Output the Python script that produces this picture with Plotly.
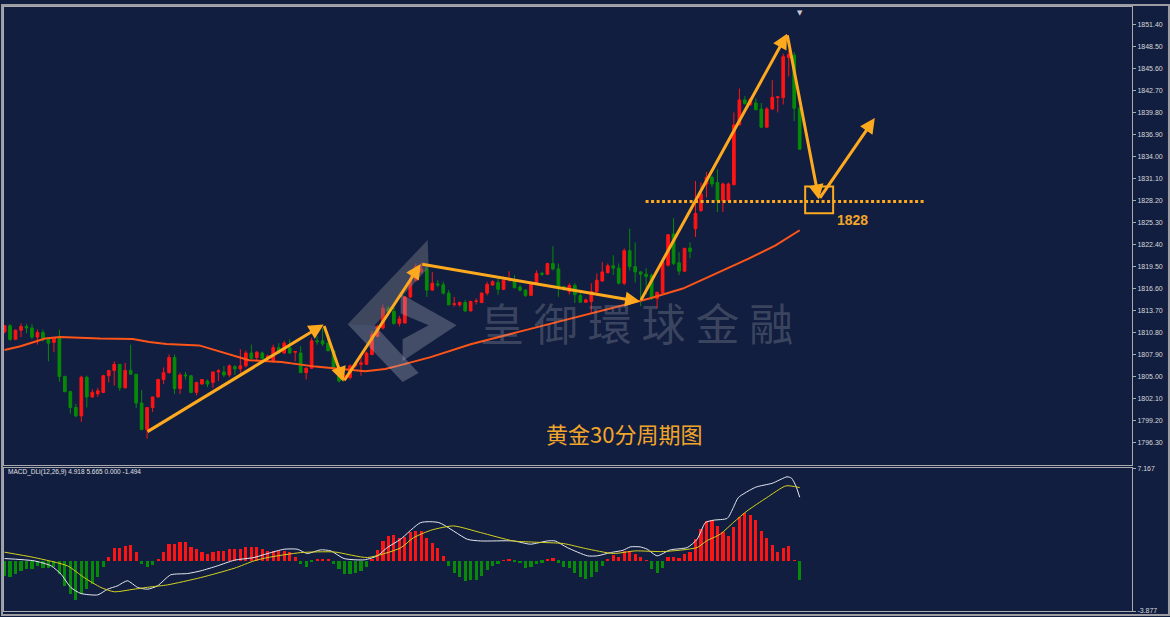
import plotly.graph_objects as go

# ---------------- data (30-minute gold candles, index = bar number) ----------------
open_ = [1810.9, 1811.7, 1809.9, 1811.1, 1811.6, 1811.4, 1810.2, 1810.8, 1809.9, 1809.5,
         1810.1, 1805.0, 1803.0, 1800.9, 1799.8, 1804.9, 1802.3, 1802.7, 1802.9, 1805.1,
         1805.8, 1806.6, 1803.5, 1805.8, 1805.3, 1801.5, 1798.0, 1800.9, 1802.3, 1804.6,
         1805.5, 1807.5, 1803.4, 1805.2, 1805.1, 1802.9, 1804.0, 1804.4, 1804.2, 1805.6,
         1805.6, 1805.2, 1806.3, 1806.0, 1806.4, 1808.1, 1807.5, 1808.1, 1807.4, 1807.1,
         1808.8, 1808.1, 1808.8, 1808.2, 1808.1, 1805.5, 1806.1, 1809.7, 1809.7, 1809.4,
         1808.4, 1805.9, 1804.6, 1804.85, 1806.4, 1806.6, 1806.6, 1807.9, 1810.3, 1811.4,
         1814.0, 1813.6, 1812.0, 1812.05, 1815.5, 1817.7, 1818.8, 1819.2, 1816.4, 1817.2,
         1817.1, 1816.0, 1814.5, 1814.45, 1814.75, 1813.65, 1814.9, 1814.75, 1816.0, 1817.06,
         1817.4, 1816.5, 1817.8, 1817.7, 1816.8, 1816.4, 1815.7, 1817.15, 1818.6, 1818.5,
         1819.9, 1819.2, 1816.85, 1816.2, 1817.0, 1815.7, 1814.8, 1814.9, 1816.2, 1817.6,
         1818.7, 1819.6, 1819.3, 1817.3, 1821.6, 1819.5, 1818.8, 1818.5, 1818.3, 1815.3,
         1816.0, 1819.7, 1823.8, 1820.0, 1818.9, 1821.96, 1824.5, 1826.9, 1830.4, 1831.3,
         1830.6, 1828.2, 1828.2, 1830.3, 1838.2, 1841.5, 1840.9, 1841.1, 1840.3, 1837.9,
         1840.3, 1841.8, 1841.8, 1847.1, 1847.4, 1840.4]
close = [1811.7, 1809.9, 1811.1, 1811.6, 1811.4, 1810.2, 1810.8, 1809.9, 1809.4, 1810.1,
         1805.0, 1803.0, 1800.9, 1799.8, 1804.9, 1802.3, 1802.9, 1803.1, 1805.1, 1805.8,
         1806.6, 1803.5, 1805.8, 1805.3, 1801.5, 1798.0, 1800.9, 1802.3, 1804.6, 1805.5,
         1807.5, 1803.4, 1805.2, 1805.1, 1802.9, 1804.2, 1804.6, 1804.0, 1805.6, 1805.75,
         1805.2, 1806.4, 1806.0, 1806.4, 1808.1, 1807.4, 1808.2, 1807.4, 1807.7, 1808.8,
         1808.1, 1809.4, 1808.1, 1808.3, 1805.5, 1806.1, 1809.7, 1809.6, 1809.3, 1808.4,
         1806.2, 1804.4, 1805.1, 1806.4, 1806.6, 1806.8, 1808.1, 1810.5, 1811.6, 1814.0,
         1813.6, 1812.0, 1812.6, 1815.5, 1817.7, 1819.5, 1819.2, 1816.4, 1817.3, 1817.1,
         1816.0, 1814.45, 1814.6, 1814.75, 1813.65, 1814.9, 1814.95, 1816.0, 1817.15, 1817.5,
         1816.5, 1817.7, 1817.9, 1816.7, 1816.4, 1815.7, 1817.15, 1818.6, 1818.5, 1819.9,
         1819.2, 1816.85, 1816.6, 1817.0, 1815.8, 1814.8, 1815.1, 1816.2, 1817.7, 1818.8,
         1819.6, 1819.3, 1817.3, 1821.6, 1819.5, 1818.8, 1818.5, 1818.2, 1815.3, 1816.1,
         1820.1, 1823.7, 1819.9, 1818.9, 1821.9, 1821.5, 1826.5, 1829.1, 1831.3, 1830.4,
         1828.2, 1830.4, 1830.4, 1838.2, 1841.5, 1841.0, 1841.6, 1840.2, 1837.9, 1840.3,
         1841.85, 1841.9, 1847.2, 1847.5, 1840.4, 1835.0]
high = [1811.8, 1811.9, 1811.2, 1812.0, 1811.9, 1811.9, 1811.2, 1811.2, 1809.9, 1810.1,
        1811.2, 1805.1, 1803.1, 1801.4, 1805.1, 1805.1, 1803.3, 1803.5, 1805.2, 1805.8,
        1807.0, 1806.6, 1806.8, 1809.2, 1805.3, 1803.2, 1800.9, 1802.3, 1804.7, 1806.2,
        1807.9, 1807.9, 1805.5, 1805.6, 1805.2, 1804.3, 1804.6, 1804.6, 1805.6, 1806.0,
        1806.4, 1806.6, 1806.5, 1808.6, 1808.4, 1809.2, 1808.35, 1808.3, 1807.9, 1809.2,
        1809.4, 1809.7, 1809.9, 1808.35, 1809.0, 1806.2, 1810.1, 1810.3, 1811.4, 1810.1,
        1808.5, 1806.4, 1805.3, 1806.6, 1806.8, 1807.9, 1808.3, 1811.0, 1811.8, 1814.5,
        1814.3, 1814.2, 1813.0, 1815.6, 1818.8, 1819.9, 1820.0, 1819.5, 1818.8, 1817.7,
        1817.5, 1816.4, 1815.5, 1814.9, 1815.1, 1815.0, 1815.3, 1816.1, 1817.5, 1817.7,
        1817.9, 1818.2, 1818.9, 1818.4, 1817.1, 1816.5, 1817.5, 1819.0, 1818.8, 1820.0,
        1822.2, 1819.9, 1817.0, 1817.3, 1817.3, 1816.0, 1815.3, 1817.3, 1818.6, 1820.1,
        1819.9, 1821.0, 1819.9, 1821.9, 1824.5, 1822.7, 1818.9, 1819.3, 1818.6, 1816.2,
        1820.6, 1823.8, 1825.9, 1821.4, 1822.0, 1822.7, 1830.8, 1830.6, 1832.0, 1831.5,
        1832.35, 1830.6, 1830.6, 1839.85, 1843.0, 1842.0, 1841.8, 1841.7, 1841.1, 1840.55,
        1844.1, 1841.95, 1847.6, 1848.05, 1847.8, 1840.6]
low = [1810.7, 1809.7, 1809.8, 1810.2, 1810.7, 1809.9, 1809.2, 1809.6, 1807.0, 1808.2,
       1804.3, 1802.9, 1800.1, 1799.6, 1799.0, 1800.9, 1802.2, 1802.3, 1802.8, 1804.2,
       1803.8, 1803.1, 1803.4, 1805.3, 1800.8, 1797.9, 1796.8, 1800.3, 1802.2, 1804.0,
       1805.4, 1802.7, 1802.7, 1804.6, 1802.8, 1802.5, 1803.9, 1803.6, 1803.5, 1804.4,
       1804.9, 1804.9, 1805.2, 1805.5, 1806.2, 1807.25, 1807.1, 1807.0, 1807.2, 1806.8,
       1808.0, 1808.0, 1808.0, 1807.0, 1805.5, 1804.6, 1806.0, 1809.2, 1809.0, 1808.3,
       1806.0, 1804.2, 1804.4, 1804.6, 1806.2, 1805.1, 1806.5, 1807.8, 1810.2, 1811.2,
       1813.2, 1811.8, 1811.6, 1812.0, 1815.3, 1817.5, 1818.6, 1815.5, 1816.3, 1816.8,
       1815.8, 1814.4, 1814.2, 1814.2, 1813.5, 1813.6, 1814.5, 1814.7, 1815.7, 1817.0,
       1815.8, 1816.4, 1817.5, 1816.7, 1816.2, 1815.5, 1815.7, 1817.1, 1818.3, 1818.4,
       1819.0, 1815.5, 1816.3, 1815.8, 1814.7, 1814.7, 1814.7, 1813.4, 1815.8, 1817.5,
       1818.6, 1818.4, 1817.15, 1817.06, 1819.0, 1817.4, 1814.3, 1815.8, 1815.1, 1814.0,
       1816.0, 1819.5, 1819.7, 1818.4, 1818.8, 1820.6, 1823.4, 1826.7, 1828.65, 1830.0,
       1826.7, 1826.7, 1828.0, 1830.3, 1838.2, 1840.9, 1840.7, 1840.2, 1837.8, 1837.9,
       1840.2, 1839.85, 1840.9, 1844.6, 1838.7, 1834.9]

# moving average (orange line), read at selected bars
ma_idx = [0, 2.9, 7.4, 10.1, 17.4, 23.4, 26.4, 29.5, 35.5, 39.1, 44.6, 50.5, 56.7, 61.4,
          65.8, 69.4, 71.7, 77.7, 85.0, 94.1, 101.4, 108.6, 111.6, 117.6, 123.7, 129.7,
          135.7, 140.6, 145.0]
ma_val = [1808.5, 1809.0, 1810.0, 1810.2, 1810.0, 1809.95, 1809.55, 1809.3, 1809.1, 1808.35,
          1807.15, 1806.9, 1806.3, 1806.0, 1805.7, 1806.0, 1806.4, 1807.55, 1809.25, 1810.95,
          1812.3, 1813.57, 1814.2, 1815.3, 1816.6, 1818.6, 1820.55, 1822.3, 1824.3]

# MACD histogram (one value per bar)
macd_hist = [-1.16, -1.24, -1.03, -0.77, -0.64, -0.64, -0.39, -0.57, -0.57, -0.51,
             -1.03, -1.93, -2.57, -3.04, -2.57, -2.19, -1.8, -1.29, -0.46, 0.31,
             0.95, 0.95, 1.16, 1.21, 0.64, -0.26, -0.46, -0.33, 0.13, 0.64,
             1.29, 1.29, 1.47, 1.47, 1.03, 0.9, 0.64, 0.51, 0.64, 0.72,
             0.72, 0.9, 0.9, 0.9, 1.08, 1.08, 1.08, 0.9, 0.72, 0.77,
             0.77, 0.72, 0.64, 0.31, -0.26, -0.46, -0.13, 0.1, 0.15, 0.08,
             -0.26, -0.64, -1.03, -1.03, -0.98, -0.77, -0.51, 0.13, 0.82, 1.54,
             1.93, 2.0, 1.75, 1.85, 2.19, 2.32, 2.32, 1.75, 1.34, 0.95,
             0.39, -0.39, -0.98, -1.29, -1.6, -1.49, -1.49, -1.16, -0.72, -0.39,
             -0.26, 0.03, 0.1, -0.05, -0.2, -0.57, -0.51, -0.26, -0.15, 0.1,
             0.2, -0.15, -0.46, -0.57, -0.98, -1.29, -1.42, -1.29, -0.9, -0.39,
             0.1, 0.44, 0.31, 0.77, 0.77, 0.51, 0.26, 0.03, -0.64, -0.98,
             -0.57, 0.26, 0.31, 0.2, 0.51, 0.7, 1.67, 2.45, 3.04, 3.14,
             2.65, 2.19, 1.93, 2.63, 3.35, 3.66, 3.55, 3.17, 2.27, 1.75,
             1.24, 0.7, 0.95, 1.11, 0.05, -1.494]

# MACD main line (white) and signal line (yellow), read at selected bars
dif_idx = [0, 5.4, 8.5, 10.3, 12.1, 13.9, 17.0, 18.8, 20.6, 22.4, 24.3, 26.1, 27.9, 30.3,
           33.4, 35.8, 38.8, 41.9, 45.5, 48.0, 51.0, 53.4, 55.2, 57.6, 59.5, 61.9, 65.6,
           68.0, 69.8, 72.2, 75.9, 79.2, 84.4, 86.8, 92.8, 95.9, 99.0, 100.4, 102.6, 106.3,
           108.1, 110.5, 112.8, 114.1, 115.9, 117.2, 119.0, 121.4, 124.5, 126.3, 127.8,
           129.2, 131.8, 132.9, 133.8, 137.0, 140.0, 142.7, 143.5, 144.3, 145.0]
dif_val = [0.18, 0.0, -0.39, -1.03, -2.06, -2.52, -2.63, -2.19, -1.93, -1.54, -2.06, -2.19,
           -1.93, -1.08, -0.98, -0.77, -0.39, 0.05, 0.26, 0.57, 0.9, 0.9, 0.57, 0.85, 0.77,
           0.18, 0.08, 0.39, 1.03, 1.67, 2.96, 2.96, 1.67, 1.54, 1.54, 1.29, 1.54, 1.54, 1.03,
           0.39, 0.39, 0.64, 0.82, 1.08, 1.08, 0.9, 0.39, 0.85, 1.03, 1.67, 2.96, 3.14, 3.29,
           4.12, 4.89, 5.7, 6.0, 6.5, 6.4, 5.8, 4.918]
dea_idx = [0, 5.4, 11.5, 14.5, 17.6, 20.0, 23.6, 26.7, 29.7, 35.8, 41.9, 45.5, 48.0, 54.0,
           60.1, 66.2, 72.2, 74.6, 78.0, 81.9, 86.8, 92.8, 97.0, 101.9, 106.0, 111.0, 115.0,
           120.1, 126.3, 128.0, 130.5, 133.0, 135.4, 139.0, 142.5, 145.0]
dea_val = [0.67, 0.26, -0.39, -1.29, -2.06, -2.39, -2.19, -2.01, -1.86, -1.29, -0.57, 0.0,
           0.26, 0.64, 0.69, 0.26, 1.0, 1.8, 2.4, 2.7, 2.19, 1.54, 1.44, 1.34, 0.95, 0.57,
           0.77, 0.72, 1.03, 1.54, 2.06, 3.0, 3.86, 4.89, 5.8, 5.665]

# price tick labels on the right axis
price_ticks = [1851.40, 1848.50, 1845.60, 1842.70, 1839.80, 1836.90, 1834.00, 1831.10,
               1828.20, 1825.30, 1822.40, 1819.50, 1816.60, 1813.70, 1810.80, 1807.90,
               1805.00, 1802.10, 1799.20, 1796.30]
macd_ticks = [7.167, -3.877]

# hand-drawn analysis path (bar index, price) and the marked level
arrow_idx = [25.8, 58.2, 61.8, 75.9, 115.9, 142.7, 148.5, 158.7]
arrow_price = [1797.6, 1811.87, 1804.3, 1819.85, 1814.88, 1850.22, 1828.36, 1839.1]
level_price = 1828.1
level_label = "1828"
chart_title = "黄金30分周期图"
watermark = "皇御環球金融"
macd_label = "MACD_DLi(12,26,9) 4.918 5.665 0.000 -1.494"

# ---------------- styling ----------------
W, H = 1170, 617
ML, MR, MT, MB = 3, 38, 3, 5
PW, PH = W - ML - MR, H - MT - MB
BG = "#111E3F"
AXC = "#A9A9AE"
UP = "#FF1414"
DN = "#078A07"
ORANGE = "#FFAA1E"


def px_x(px):
    return (px - ML) / PW


def px_y(py):
    return (H - MB - py) / PH


def poly(points):
    return "M " + " L ".join(f"{px_x(a):.5f},{px_y(b):.5f}" for a, b in points) + " Z"


bars = list(range(len(open_)))

fig = go.Figure()
fig.add_trace(go.Candlestick(
    x=bars, open=open_, high=high, low=low, close=close,
    increasing=dict(line=dict(color=UP, width=1), fillcolor=UP),
    decreasing=dict(line=dict(color=DN, width=1), fillcolor=DN),
    whiskerwidth=0, xaxis="x", yaxis="y", showlegend=False, hoverinfo="skip"))
fig.add_trace(go.Scatter(x=ma_idx, y=ma_val, mode="lines",
                         line=dict(color="#FF5418", width=2), xaxis="x", yaxis="y",
                         showlegend=False, hoverinfo="skip"))
fig.add_trace(go.Bar(x=bars, y=macd_hist, width=0.58,
                     marker=dict(color=[UP if v >= 0 else DN for v in macd_hist], line=dict(width=0)),
                     xaxis="x2", yaxis="y2", showlegend=False, hoverinfo="skip"))
fig.add_trace(go.Scatter(x=dif_idx, y=dif_val, mode="lines",
                         line=dict(color="#E6E8F0", width=1, shape="spline", smoothing=0.6),
                         xaxis="x2", yaxis="y2", showlegend=False, hoverinfo="skip"))
fig.add_trace(go.Scatter(x=dea_idx, y=dea_val, mode="lines",
                         line=dict(color="#D6D21E", width=1, shape="spline", smoothing=0.6),
                         xaxis="x2", yaxis="y2", showlegend=False, hoverinfo="skip"))

x_range = [-0.1, 205.6]

common_x = dict(showticklabels=False, showgrid=False, zeroline=False, showline=True,
                linecolor=AXC, linewidth=1, mirror=True, ticks="")
fig.update_layout(
    width=W, height=H, margin=dict(l=ML, r=MR, t=MT, b=MB),
    paper_bgcolor=BG, plot_bgcolor=BG, showlegend=False, bargap=0,
    xaxis=dict(domain=[0, 1], range=x_range, anchor="y",
               rangeslider=dict(visible=False), **common_x),
    xaxis2=dict(domain=[0, 1], range=x_range, anchor="y2", matches="x", **common_x),
    yaxis=dict(domain=[px_y(465), 1], range=[1793.29, 1853.76], side="right",
               tickvals=price_ticks, ticktext=[f"{v:.2f}" for v in price_ticks],
               ticks="outside", ticklen=3, tickcolor=AXC,
               tickfont=dict(family="Liberation Sans", size=7, color="#D8D8DC"),
               showgrid=False, zeroline=False, showline=True, linecolor=AXC, mirror=True,
               anchor="x"),
    yaxis2=dict(domain=[0, px_y(468)], range=[-3.877, 7.167], side="right",
                tickvals=macd_ticks, ticktext=[f"{v:.3f}" for v in macd_ticks],
                ticks="outside", ticklen=3, tickcolor=AXC,
                tickfont=dict(family="Liberation Sans", size=7, color="#D8D8DC"),
                showgrid=False, zeroline=False, showline=True, linecolor=AXC, mirror=True,
                anchor="x2"),
)

shapes = []
# watermark logo (translucent)
shapes.append(dict(type="path", xref="paper", yref="paper", layer="above",
                   path=poly([(427, 238), (428, 266), (374, 324), (347, 323)]),
                   fillcolor="rgba(120,122,135,0.45)", line=dict(width=0)))
shapes.append(dict(type="path", xref="paper", yref="paper", layer="above",
                   path=poly([(347, 323), (374, 324), (418, 372), (402, 381)]),
                   fillcolor="rgba(175,178,190,0.33)", line=dict(width=0)))
shapes.append(dict(type="path", xref="paper", yref="paper", layer="above",
                   path=poly([(400, 292), (456, 324), (402, 360), (402, 338), (428, 324), (400, 312)]),
                   fillcolor="rgba(185,188,200,0.30)", line=dict(width=0)))
# level line and box
shapes.append(dict(type="line", xref="x", yref="y", x0=116.9, x1=167.9,
                   y0=level_price, y1=level_price,
                   line=dict(color=ORANGE, width=3, dash="3px,2.5px")))
shapes.append(dict(type="rect", xref="x", yref="y", x0=146.0, x1=151.1,
                   y0=1826.53, y1=1830.07, line=dict(color=ORANGE, width=2)))
# outer frame
shapes.append(dict(type="rect", xref="paper", yref="paper",
                   x0=px_x(1), x1=px_x(1169), y0=px_y(616), y1=px_y(1),
                   line=dict(color="#9C9CA2", width=2)))
fig.update_layout(shapes=shapes)

ann = []
for i in range(1, len(arrow_idx)):
    ann.append(dict(x=arrow_idx[i], y=arrow_price[i], ax=arrow_idx[i - 1], ay=arrow_price[i - 1],
                    xref="x", yref="y", axref="x", ayref="y", text="", showarrow=True,
                    arrowhead=2, arrowsize=1.0, arrowwidth=3, arrowcolor=ORANGE, standoff=0))
ann.append(dict(x=154.7, y=1825.6, xref="x", yref="y", text=f"<b>{level_label}</b>",
                showarrow=False, font=dict(family="Liberation Sans", size=14, color="#F2A52A")))
ann.append(dict(x=113.0, y=1797.6, xref="x", yref="y", text=chart_title, showarrow=False,
                font=dict(family="Noto Sans CJK SC", size=22, color="#F2A52A")))
ann.append(dict(x=px_x(636), y=px_y(321), xref="paper", yref="paper",
                text=" ".join(watermark), showarrow=False,
                font=dict(family="Noto Sans CJK TC", size=44, color="rgba(150,152,165,0.33)")))
ann.append(dict(x=px_x(5), y=px_y(472), xref="paper", yref="paper", text=macd_label,
                showarrow=False, xanchor="left", yanchor="middle",
                font=dict(family="Liberation Sans", size=6.5, color="#E0E0E4")))
ann.append(dict(x=145, y=1, xref="x", yref="paper", text="▼", showarrow=False, yanchor="top",
                font=dict(family="DejaVu Sans", size=7, color="#C8C8CE")))
fig.update_layout(annotations=ann)

fig.write_html("out.html")
